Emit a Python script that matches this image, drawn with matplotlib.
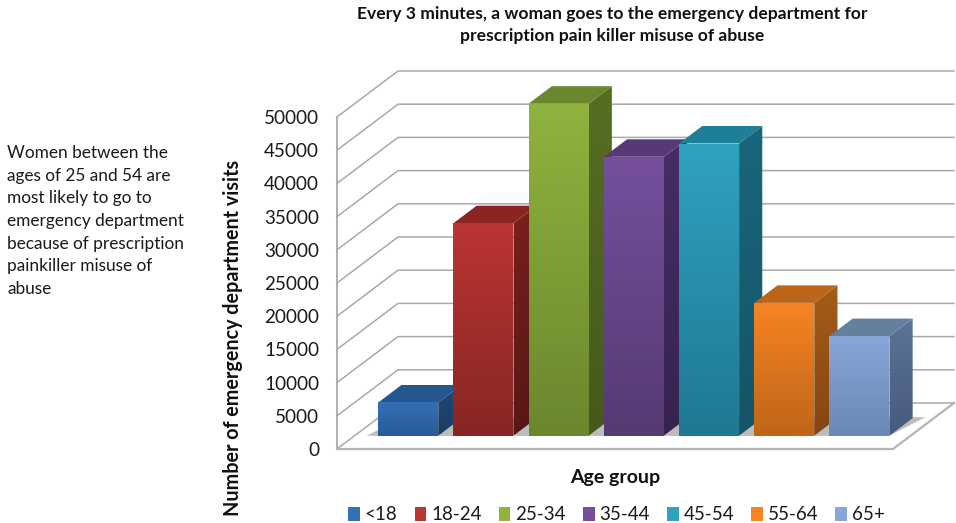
import numpy as np
import matplotlib
matplotlib.use("Agg")
import matplotlib.pyplot as plt
from matplotlib.patches import Polygon, Patch
from matplotlib.colors import to_rgb

categories = ["<18", "18-24", "25-34", "35-44", "45-54", "55-64", "65+"]
visits = [5000, 32000, 50000, 42000, 44000, 20000, 15000]
y_ticks = list(range(0, 50001, 5000))
title = ("Every 3 minutes, a woman goes to the emergency department for\n"
         "prescription pain killer misuse of abuse")
note = ["Women between the", "ages of 25 and 54 are", "most likely to go to",
        "emergency department", "because of prescription",
        "painkiller misuse of", "abuse"]

front_top = ["#3470b6", "#bb3532", "#8fb33e", "#74509c", "#2fa2c0", "#f68423", "#88a6d8"]
front_bot = ["#285a96", "#872624", "#6a872e", "#553a73", "#1f7892", "#bf6518", "#6a87b4"]
side_top = ["#1f4a78", "#7a201c", "#566e24", "#472d65", "#1a667c", "#a65c18", "#5c7498"]
side_bot = ["#1a3c62", "#561816", "#46591c", "#372350", "#155466", "#834612", "#465a7c"]
top_col = ["#245690", "#8c2422", "#6a872e", "#573a75", "#1f7f98", "#ba6518", "#64809f"]

plt.rcParams["font.family"] = ["Lato", "DejaVu Sans"]
W, H = 956, 523
fig = plt.figure(figsize=(W / 100, H / 100), dpi=100)
L, R, T, B = 337, 955, 71, 449
ax = fig.add_axes([L / W, 1 - B / H, (R - L) / W, (B - T) / H])
ax.patch.set_alpha(0)

PITCH = 75.2
X0 = 390.6
xlim = ((L - X0) / PITCH, (R - X0) / PITCH)
ylim = (0, (B - T) / 332 * 50000)
DX = 61 / PITCH
DY = 46 / 332 * 50000
HALF = 30 / PITCH
D0, D1 = 0.29, 0.67


def proj(x, v, d):
    return (x + d * DX, v + d * DY)


def shaded(verts, c_top, c_bot, z):
    verts = np.array(verts)
    poly = Polygon(verts, closed=True, fc="none", ec="none", zorder=z)
    ax.add_patch(poly)
    t, b = np.array(to_rgb(c_top)), np.array(to_rgb(c_bot))
    f = np.linspace(0, 1, 128)[:, None, None]
    img = t[None, None, :] * (1 - f) + b[None, None, :] * f
    im = ax.imshow(img, extent=(verts[:, 0].min(), verts[:, 0].max(),
                                verts[:, 1].min(), verts[:, 1].max()),
                   aspect="auto", origin="upper", zorder=z, interpolation="bilinear")
    im.set_clip_path(poly)


GRID = "#a9a9a9"
# walls and floor
xl, xr = xlim[0], xlim[0] + (893 - L) / PITCH
for v in y_ticks:
    a, b, c = proj(xl, v, 0), proj(xl, v, 1), proj(xr, v, 1)
    ax.plot([a[0], b[0], c[0]], [a[1], b[1], c[1]], color=GRID, lw=1.1, zorder=1,
            solid_joinstyle="miter", clip_on=False)
ax.plot([xl, xl], [0, y_ticks[-1]], color=GRID, lw=1.3, zorder=1, clip_on=False)
f1, f2, f3 = proj(xl, 0, 0), proj(xr, 0, 0), proj(xr, 0, 1)
ax.plot([f1[0], f2[0], f3[0]], [f1[1], f2[1], f3[1]], color="#b4b4b4", lw=1.6, zorder=1,
        solid_joinstyle="miter", clip_on=False)

# floor shadows
last = len(visits) - 1
for grow, shade in ((0.17, "#e2e2e2"), (0.14, "#bcbcbc")):
    for i in range(len(visits)):
        gap = 0.0 if i == last else 0.2
        s = [proj(i - HALF - grow, 0, D0), proj(i + HALF + gap, 0, D0),
             proj(i + HALF + grow, 0, D1 + 0.02), proj(i - HALF, 0, D1 + 0.02)]
        ax.add_patch(Polygon(s, closed=True, fc=shade, ec="none", zorder=2))

# bars
for i, v in enumerate(visits):
    z = 3 + i
    l, r = i - HALF, i + HALF
    shaded([proj(r, 0, D0), proj(r, 0, D1), proj(r, v, D1), proj(r, v, D0)],
           side_top[i], side_bot[i], z)
    ax.add_patch(Polygon([proj(l, v, D0), proj(r, v, D0), proj(r, v, D1), proj(l, v, D1)],
                         closed=True, fc=top_col[i], ec="none", zorder=z))
    shaded([proj(l, 0, D0), proj(r, 0, D0), proj(r, v, D0), proj(l, v, D0)],
           front_top[i], front_bot[i], z)

ax.set_xlim(xlim)
ax.set_ylim(ylim)
for s in ax.spines.values():
    s.set_visible(False)
ax.set_xticks([])
ax.set_yticks(y_ticks)
ax.tick_params(axis="y", length=0, pad=13, labelsize=13.6, labelcolor="#1a1a1a")

fig.text(615 / W, 1 - 477 / H, "Age group", ha="center", va="center",
         fontsize=14, fontweight="bold", color="#111111")
fig.text(233 / W, 1 - 338 / H, "Number of emergency department visits", rotation=90,
         ha="center", va="center", fontsize=14.2, fontweight="bold", color="#111111")
fig.text(612 / W, 1 - 25 / H, title, ha="center", va="center", fontsize=12.6,
         fontweight="bold", color="#111111", linespacing=1.5)
for k, line in enumerate(note):
    fig.text(7 / W, 1 - (153 + 22.7 * k) / H, line, ha="left", va="center",
             fontsize=12.4, color="#1a1a1a")

handles = [Patch(fc=c, ec="none") for c in front_top]
fig.legend(handles, categories, loc="center", bbox_to_anchor=(616.5 / W, 1 - 515 / H), ncol=7,
           frameon=False, fontsize=13.5, handlelength=0.62, handleheight=0.85,
           handletextpad=0.25, columnspacing=0.92, labelcolor="#1a1a1a",
           borderpad=0, borderaxespad=0)

fig.savefig("out.png", dpi=100)
